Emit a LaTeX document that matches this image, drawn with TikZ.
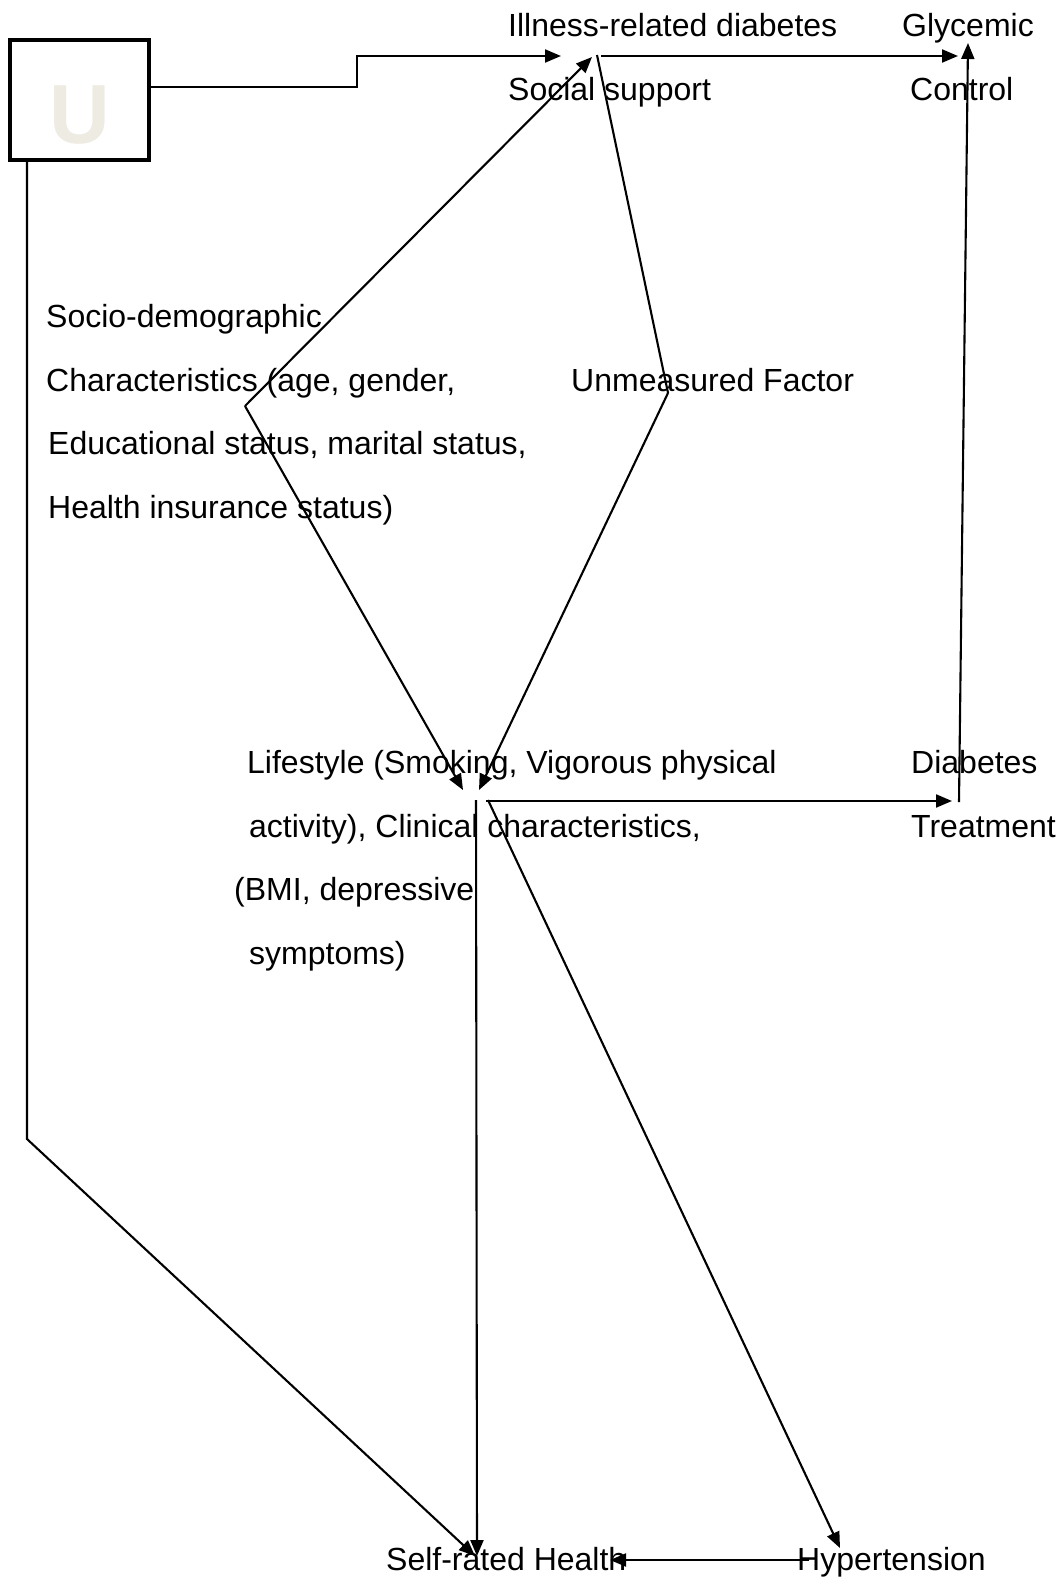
\documentclass[tikz,border=0pt]{standalone}
\usepackage{fontspec}
\setmainfont{Liberation Sans}
\usetikzlibrary{arrows.meta}
\definecolor{ubeige}{HTML}{EEEBE2}
\begin{document}
\begin{tikzpicture}[x=1pt,y=-1pt,
 lbl/.style={anchor=base west,inner sep=0pt,font=\fontsize{32}{38}\selectfont},
 con/.style={line width=2.1pt,line join=miter},
 arr/.style={con,-{Triangle[length=16pt,width=13pt]}}]
\useasboundingbox (0,0) rectangle (1063,1579);
% U box
\node (U) [draw,line width=4.5pt,minimum width=139pt,minimum height=120pt,inner sep=0pt] at (79.5,100) {};
\node (Ulbl) [inner sep=0pt,text=ubeige,font=\fontsize{84}{86}\selectfont\bfseries] at (80,115) {U};
% labels
\node (ill1) [lbl] at (508,37) {Illness-related diabetes};
\node (ill2) [lbl] at (508,100) {Social support};
\node (gly1) [lbl] at (902,37) {Glycemic};
\node (gly2) [lbl] at (910,100) {Control};
\node (soc1) [lbl] at (46,327) {Socio-demographic};
\node (soc2) [lbl] at (46,391) {Characteristics (age, gender,};
\node (soc3) [lbl] at (48,454) {Educational status, marital status,};
\node (soc4) [lbl] at (48,518) {Health insurance status)};
\node (unm1) [lbl] at (571,391) {Unmeasured Factor};
\node (life1) [lbl] at (247,773) {Lifestyle (Smoking, Vigorous physical};
\node (life2) [lbl] at (249,837) {activity), Clinical characteristics,};
\node (life3) [lbl] at (234,900) {(BMI, depressive};
\node (life4) [lbl] at (249,964) {symptoms)};
\node (dia1) [lbl] at (911,773) {Diabetes};
\node (dia2) [lbl] at (911,837) {Treatment};
\node (self) [lbl] at (386,1570) {Self-rated Health};
\node (hyp) [lbl] at (797,1570) {Hypertension};
% connector points
\coordinate (uout) at (149,87);
\coordinate (ustep) at (357,87);
\coordinate (illIn) at (561,56);
\coordinate (ubot) at (27,160);
\coordinate (ubend) at (27,1139);
\coordinate (selfIn1) at (475,1556);
\coordinate (socio) at (245,406);
\coordinate (illIn2) at (592,57);
\coordinate (lifeIn1) at (463,790);
\coordinate (unm) at (668,393);
\coordinate (unmTop) at (597,55);
\coordinate (lifeIn2) at (479,790);
\coordinate (illOut) at (601,56);
\coordinate (glyIn1) at (958,56);
\coordinate (diaOut) at (959,802);
\coordinate (glyIn2) at (968,43);
\coordinate (lifeOut1) at (486,801);
\coordinate (diaIn) at (952,801);
\coordinate (lifeOut2) at (476,800);
\coordinate (selfIn2) at (477,1556);
\coordinate (lifeOut3) at (488,800);
\coordinate (hypIn) at (840,1548);
\coordinate (hypOut) at (809,1560);
\coordinate (selfIn3) at (610,1560);
% connectors
\draw[arr] (uout) -- (ustep) |- (illIn);
\draw[arr] (ubot) -- (ubend) -- (selfIn1);
\draw[arr] (socio) -- (illIn2);
\draw[arr] (socio) -- (lifeIn1);
\draw[con] (unm) -- (unmTop);
\draw[arr] (unm) -- (lifeIn2);
\draw[arr] (illOut) -- (glyIn1);
\draw[arr] (diaOut) -- (glyIn2);
\draw[arr] (lifeOut1) -- (diaIn);
\draw[arr] (lifeOut2) -- (selfIn2);
\draw[arr] (lifeOut3) -- (hypIn);
\draw[arr] (hypOut) -- (selfIn3);
\end{tikzpicture}
\end{document}
